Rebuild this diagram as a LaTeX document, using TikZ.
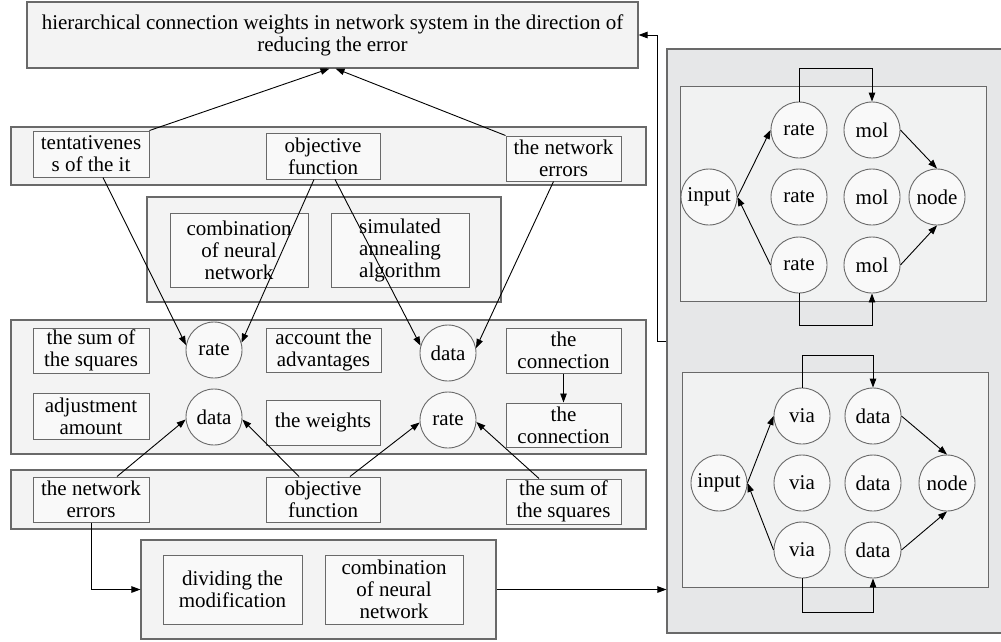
\documentclass[tikz,border=0pt]{standalone}
\usepackage{fontspec}
\setmainfont{Liberation Serif}
\usepackage{tikz}
\usetikzlibrary{arrows.meta,positioning,calc}
\definecolor{EdgeGray}{RGB}{105,105,105}
\definecolor{BandGray}{RGB}{243,243,243}
\definecolor{BoxGray}{RGB}{249,249,249}
\definecolor{PanelGray}{RGB}{230,231,232}
\definecolor{NetGray}{RGB}{241,242,242}

\begin{document}
\begin{tikzpicture}[x=1pt,y=-1pt,
  font=\fontsize{21}{22}\selectfont,
  sz/.style 2 args={minimum width=#1pt,minimum height=#2pt},
  band/.style={draw=EdgeGray,line width=1.1pt,fill=BandGray,inner sep=0pt},
  box/.style={draw=EdgeGray,line width=1pt,fill=BoxGray,inner sep=0pt,align=center},
  unit/.style={circle,draw=EdgeGray,line width=0.9pt,fill=BoxGray,minimum size=56pt,inner sep=0pt},
  link/.style={-{Triangle[length=9pt,width=6.5pt]},line width=0.9pt}]
\useasboundingbox (0,0) rectangle (1001,641);
% goal
\node[band,align=center,sz={611}{66}] (goal) at (332.5,35)
  {hierarchical connection weights in network system in the direction of\\reducing the error};
% first row
\node[band,sz={635}{58}] (bandA) at (328.5,156) {};
\node[box,sz={116}{46}] (tent) at (91,154) {tentativenes\\s of the it};
\node[box,sz={114}{46}] (objA) at (323,156) {objective\\function};
\node[box,sz={115}{45}] (errA) at (563.5,158.5) {the network\\errors};
% algorithms
\node[band,sz={354}{105}] (algo) at (324,249.5) {};
\node[box,sz={138}{74}] (combA) at (239,250) {combination\\of neural\\network};
\node[box,sz={138}{74}] (anneal) at (400,250) {simulated\\annealing\\algorithm};
% middle row
\node[band,sz={635}{134}] (bandB) at (328.5,387) {};
\node[box,sz={116}{45}] (sumA) at (91,350.5) {the sum of\\the squares};
\node[box,sz={116}{46}] (adjust) at (91,416) {adjustment\\amount};
\node[box,sz={115}{44}] (advant) at (323.5,350) {account the\\advantages};
\node[box,sz={114}{45}] (weights) at (323,422.5) {the weights};
\node[box,sz={115}{45}] (connA) at (563.5,350.5) {the\\connection};
\node[box,sz={115}{44}] (connB) at (563.5,425) {the\\connection};
\foreach \n/\x/\y/\t in {rateA/214/350/rate,dataB/214/417/data,dataA/448/353/data,rateB/448/420/rate}
  \node[unit] (\n) at (\x,\y) {\t};
% last row
\node[band,sz={635}{59}] (bandC) at (328.5,499.5) {};
\node[box,sz={116}{45}] (errB) at (91,499.5) {the network\\errors};
\node[box,sz={114}{45}] (objB) at (323,499.5) {objective\\function};
\node[box,sz={115}{45}] (sumB) at (563.5,501.5) {the sum of\\the squares};
% modification
\node[band,sz={355}{99}] (modify) at (318.5,589.5) {};
\node[box,sz={139}{69}] (divide) at (232.5,589.5) {dividing the\\modification};
\node[box,sz={138}{69}] (combB) at (394,589.5) {combination\\of neural\\network};
% networks
\node[band,fill=PanelGray,sz={336}{584}] (panel) at (835,341) {};
\node[band,fill=NetGray,line width=1pt,sz={306}{215}] (net1) at (833,193.5) {};
\node[band,fill=NetGray,line width=1pt,sz={306}{215}] (net2) at (835,479.5) {};
\foreach \n/\x/\y/\t in {in1/709/197/input,r1a/799/130/rate,r1b/799/197/rate,r1c/799/265/rate,
    m1a/872/130/mol,m1b/872/197/mol,m1c/872/265/mol,out1/937/197/node,
    in2/719/483/input,v2a/802/416/via,v2b/802/483/via,v2c/802/550/via,
    d2a/873/416/data,d2b/873/483/data,d2c/873/550/data,out2/947/483/node}
  \node[unit] (\n) at (\x,\y) {\t};
% connectors
\draw[link] (tent.north east) -- ([xshift=-3pt]goal.south);
\draw[link] (errA.north west) -- ([xshift=3pt]goal.south);
\draw[link] ([xshift=12pt]tent.south) -- (rateA.170);
\draw[link] ([xshift=-9pt]objA.south) -- (rateA.15);
\draw[link] ([xshift=12pt]objA.south) -- (dataA.165);
\draw[link] ([xshift=-10pt]errA.south) -- (dataA.10);
\draw[link] (connA) -- (connB);
\draw[link] ([xshift=26pt]errB.north) -- (dataB.185);
\draw[link] ([xshift=-24pt]objB.north) -- (dataB.355);
\draw[link] ([xshift=27pt]objB.north) -- (rateB.185);
\draw[link] ([xshift=-24.5pt]sumB.north) -- (rateB.356);
\draw[link] (errB.south) |- (modify.west);
\draw[link] (modify.east) -- (modify.east -| panel.west);
\draw[link] (panel.west) -- ++(-9,0) |- (goal.east);
\draw[link] (in1.east) -- (r1a.west);
\draw[link] (r1c.west) -- (in1.east);
\draw[link] (m1a.east) -- (out1.north);
\draw[link] (m1c.east) -- (out1.south);
\draw[link] (r1a.north) -- ++(0,-33) -| (m1a.north);
\draw[link] (r1c.south) -- ++(0,32) -| (m1c.south);
\draw[link] (in2.east) -- (v2a.west);
\draw[link] (v2c.west) -- (in2.east);
\draw[link] (d2a.east) -- (out2.north);
\draw[link] (d2c.east) -- (out2.south);
\draw[link] (v2a.north) -- ++(0,-32) -| (d2a.north);
\draw[link] (v2c.south) -- ++(0,34) -| (d2c.south);
\end{tikzpicture}
\end{document}
